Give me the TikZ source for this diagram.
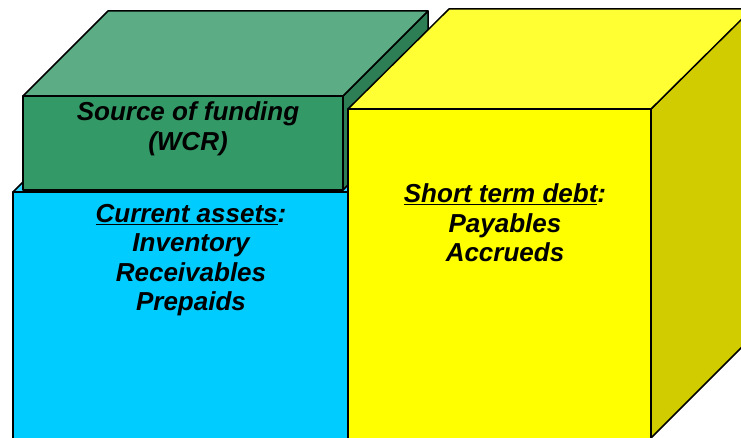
\documentclass[tikz,border=0pt]{standalone}
\usepackage{fontspec}
\setmainfont{Liberation Sans}
\definecolor{cyanfront}{HTML}{00CCFF}
\definecolor{cyantop}{HTML}{33D6FF}
\definecolor{greenfront}{HTML}{339966}
\definecolor{greentop}{HTML}{5CAD85}
\definecolor{greenside}{HTML}{2D7D55}
\definecolor{yellowfront}{HTML}{FFFF00}
\definecolor{yellowtop}{HTML}{FFFF33}
\definecolor{yellowside}{HTML}{D0CC00}
\begin{document}
\begin{tikzpicture}[x=1pt,y=-1pt,line width=1.5pt,line join=round,
        boxtext/.style={align=center,font=\fontsize{26}{29.5}\selectfont\bfseries\itshape}]
            \clip (0,0) rectangle (741,438);
            % current assets
            \filldraw[fill=cyantop] (13,192) -- (98,107) -- (433,107) -- (348,192) -- cycle;
            \filldraw[fill=cyanfront] (13,192) rectangle (348,441);
            % source of funding, sitting on top
            \filldraw[fill=greenside] (343,96) -- (428,11) -- (428,105) -- (343,190) -- cycle;
            \filldraw[fill=greentop] (23,96) -- (108,11) -- (428,11) -- (343,96) -- cycle;
            \filldraw[fill=greenfront] (23,96) rectangle (343,190);
            % short term debt
            \filldraw[fill=yellowside] (651,109) -- (752,8) -- (752,337) -- (651,438) -- cycle;
            \filldraw[fill=yellowtop] (348,109) -- (449,9) -- (752,9) -- (651,109) -- cycle;
            \filldraw[fill=yellowfront] (348,109) rectangle (651,441);
            \node[boxtext] (wcr) at (188,129) {Source of funding\\(WCR)};
            \node[boxtext] (assets) at (191,260) {\underline{Current assets}:\\Inventory\\Receivables\\Prepaids};
            \node[boxtext] (debt) at (505,223) {\underline{Short term debt}:\\Payables\\Accrueds};
        \end{tikzpicture}
\end{document}
